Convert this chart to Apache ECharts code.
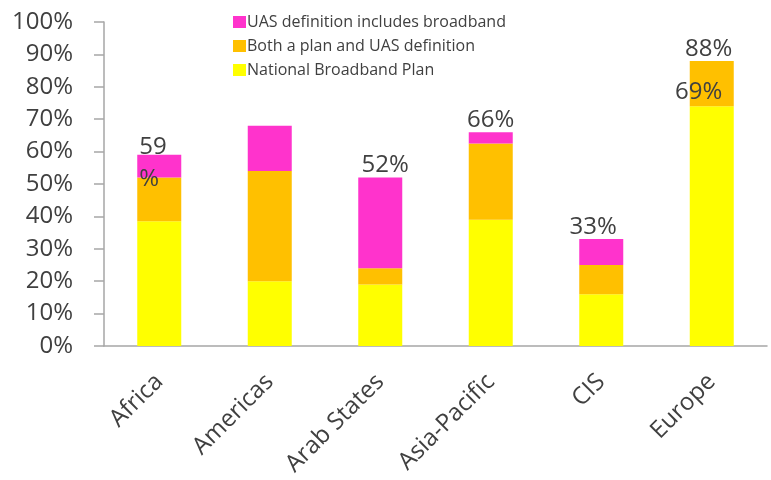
<!DOCTYPE html>
<html>
<head>
<meta charset="utf-8">
<script src="https://cdn.jsdelivr.net/npm/echarts@6/dist/echarts.min.js"></script>
<style>
  html, body { margin: 0; padding: 0; background: #fff; }
  #chart { width: 771px; height: 480px; }
</style>
</head>
<body>
<div id="chart"></div>
<script>
// Regions on the category axis
const regions = ['Africa', 'Americas', 'Arab States', 'Asia-Pacific', 'CIS', 'Europe'];

// Share of countries (%) per policy category, stacked bottom to top
const nationalPlan = [38.5, 20, 19, 39, 16, 74];
const bothPlanAndUas = [13.5, 34, 5, 23.5, 9, 14];
const uasIncludesBroadband = [7, 14, 28, 3.5, 8, 0];

// Which regions carry a total label above the stack
const showTotal = [true, false, true, true, true, true];
// Extra text shown inside the middle segment
const innerText = ['', '', '', '', '', '69%'];

const yTicks = [0, 10, 20, 30, 40, 50, 60, 70, 80, 90, 100];

const seriesNames = [
  'National Broadband Plan',
  'Both a plan and UAS definition',
  'UAS definition includes broadband'
];
const colors = ['#FFFF00', '#FFC000', '#FF33CC'];

const FONT = 'Open Sans';
const TEXT = '#404040';
const AXIS = '#A6A6A6';

const totals = regions.map((_, i) =>
  Math.round(nationalPlan[i] + bothPlanAndUas[i] + uasIncludesBroadband[i]));

// Small horizontal nudges for the total labels
const totalOffsets = [[0, 0], [0, 0], [5, 0], [0, 0], [-8, 0], [-3, 0]];

const topData = uasIncludesBroadband.map((v, i) => {
  const item = { value: v };
  if (!showTotal[i]) {
    item.label = { show: false };
  } else if (i === 0) {
    // narrow label that wraps onto two lines
    item.label = {
      show: true,
      position: [2, -24],
      align: 'left',
      verticalAlign: 'top',
      width: 30,
      overflow: 'breakAll',
      lineHeight: 32
    };
  } else {
    item.label = { show: true, offset: totalOffsets[i] };
  }
  return item;
});

const midData = bothPlanAndUas.map((v, i) => {
  const item = { value: v };
  if (innerText[i]) {
    item.label = {
      show: true,
      position: 'inside',
      offset: [-13, 9],
      formatter: innerText[i]
    };
  }
  return item;
});

const chart = echarts.init(document.getElementById('chart'), null, { renderer: 'canvas' });

chart.setOption({
  animation: false,
  backgroundColor: '#ffffff',
  textStyle: { fontFamily: FONT },
  grid: { left: 104, right: 4, top: 22, bottom: 134, containLabel: false },
  legend: {
    orient: 'vertical',
    left: 228,
    top: 9,
    itemWidth: 13,
    itemHeight: 12,
    itemGap: 8,
    icon: 'rect',
    data: [seriesNames[2], seriesNames[1], seriesNames[0]],
    textStyle: { fontFamily: FONT, fontSize: 16, color: TEXT, padding: [0, 0, 0, -4] }
  },
  xAxis: {
    type: 'category',
    data: regions,
    axisLine: { lineStyle: { color: AXIS, width: 1.5 } },
    axisTick: { length: 10, lineStyle: { color: AXIS, width: 1.5 } },
    axisLabel: {
      rotate: 45,
      margin: 32,
      fontFamily: FONT,
      fontSize: 24,
      color: TEXT,
      interval: 0
    }
  },
  yAxis: {
    type: 'value',
    min: yTicks[0],
    max: yTicks[yTicks.length - 1],
    interval: yTicks[1] - yTicks[0],
    axisLine: { show: true, lineStyle: { color: AXIS, width: 1.5 } },
    axisTick: { show: true, length: 10, lineStyle: { color: AXIS, width: 1.5 } },
    splitLine: { show: false },
    axisLabel: {
      margin: 31,
      fontFamily: FONT,
      fontSize: 24,
      color: TEXT,
      formatter: '{value}%'
    }
  },
  series: [
    {
      name: seriesNames[0],
      type: 'bar',
      stack: 'total',
      barWidth: 44,
      itemStyle: { color: colors[0] },
      data: nationalPlan
    },
    {
      name: seriesNames[1],
      type: 'bar',
      stack: 'total',
      barWidth: 44,
      itemStyle: { color: colors[1] },
      label: { show: false, fontFamily: FONT, fontSize: 24, color: TEXT },
      data: midData
    },
    {
      name: seriesNames[2],
      type: 'bar',
      stack: 'total',
      barWidth: 44,
      itemStyle: { color: colors[2] },
      label: {
        show: true,
        position: 'top',
        distance: 0,
        fontFamily: FONT,
        fontSize: 24,
        color: TEXT,
        formatter: (p) => totals[p.dataIndex] + '%'
      },
      data: topData
    }
  ]
});
</script>
</body>
</html>
